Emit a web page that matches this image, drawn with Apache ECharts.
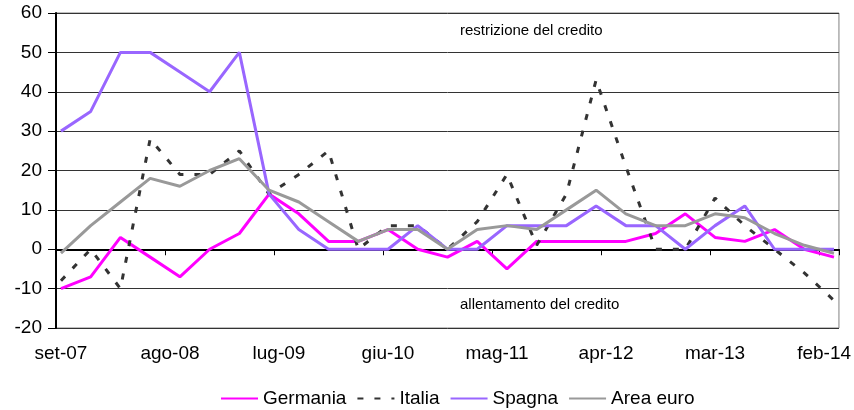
<!DOCTYPE html>
<html>
<head>
<meta charset="utf-8">
<script src="https://cdn.jsdelivr.net/npm/echarts@6/dist/echarts.min.js"></script>
<style>html,body{margin:0;padding:0;background:#fff;}#c{width:854px;height:410px;}</style>
</head>
<body>
<div id="c"></div>
<script>
// Monthly category axis from set-07 to mar-14; quarterly observations
const monthNames = ['gen','feb','mar','apr','mag','giu','lug','ago','set','ott','nov','dic'];
const startYear = 2007, startMonth = 8, monthCount = 79;
const categories = [];
for (let k = 0; k < monthCount; k++) {
  const m = (startMonth + k) % 12;
  const y = startYear + Math.floor((startMonth + k) / 12);
  categories.push(monthNames[m] + '-' + String(y % 100).padStart(2, '0'));
}
// quarterly observations: set-07, dic-07, ..., mar-14
const quarterStep = 3;
const germania = [-10,-7,3,-2,-7,0,4,14,9,2,2,5,0,-2,2,-5,2,2,2,2,4,9,3,2,5,0,-2];
const italia   = [-8,0,-10,28,19,19,25,14,19,25,0,6,6,0,7,19,1,14,43,21,0,0,13,6,0,-6,-13];
const spagna   = [30,35,50,50,45,40,50,14,5,0,0,0,6,0,0,6,6,6,11,6,6,0,6,11,0,0,0];
const areaEuro = [-1,6,12,18,16,20,23,15,12,7,2,5,5,0,5,6,5,10,15,9,6,6,9,8,4,1,-1];
const yTicks = {min: -20, max: 60, interval: 10};

const toPairs = arr => arr.map((v, i) => [categories[i * quarterStep], v]);
const FONT = '"Liberation Sans", Arial, sans-serif';

const chart = echarts.init(document.getElementById('c'), null, {renderer: 'canvas'});
const mkSeries = (name, data, color, type) => ({
  name, type: 'line', data: toPairs(data), symbol: 'none', connectNulls: true,
  lineStyle: {color, width: 3, type: type || 'solid'}, itemStyle: {color},
  z: 3
});
chart.setOption({
  animation: false,
  backgroundColor: '#fff',
  textStyle: {fontFamily: FONT},
  grid: {left: 56, right: 13, top: 13, bottom: 82, show: true, borderColor: '#808080', borderWidth: 1, containLabel: false},
  legend: {
    top: 384, left: 215, itemWidth: 37, itemHeight: 12, itemGap: 10,
    itemStyle: {opacity: 0},
    textStyle: {fontSize: 19, color: '#000', fontFamily: FONT},
    data: ['Germania', 'Italia', 'Spagna', 'Area euro']
  },
  xAxis: {
    type: 'category', data: categories, boundaryGap: true,
    axisLine: {show: true, lineStyle: {color: '#000', width: 2}},
    axisTick: {show: true, interval: 10, length: 6, lineStyle: {color: '#000', width: 1}},
    axisLabel: {interval: 10, fontSize: 19, color: '#000', margin: 16, fontFamily: FONT},
    splitLine: {show: false}
  },
  yAxis: {
    type: 'value', min: yTicks.min, max: yTicks.max, interval: yTicks.interval,
    axisLine: {show: true, lineStyle: {color: '#000', width: 2}},
    axisTick: {show: true, length: 8, lineStyle: {color: '#000', width: 1}},
    axisLabel: {fontSize: 19, color: '#000', margin: 14, fontFamily: FONT},
    splitLine: {show: true, lineStyle: {color: '#333', width: 1}}
  },
  graphic: [
    {type: 'text', left: 460, top: 23, style: {text: 'restrizione del credito', font: '15px ' + FONT, fill: '#000'}},
    {type: 'text', left: 460, top: 297, style: {text: 'allentamento del credito', font: '15px ' + FONT, fill: '#000'}}
  ],
  series: [
    mkSeries('Germania', germania, '#FF00FF'),
    mkSeries('Italia', italia, '#333333', [6, 11]),
    mkSeries('Spagna', spagna, '#9966FF'),
    mkSeries('Area euro', areaEuro, '#999999')
  ]
});
</script>
</body>
</html>
